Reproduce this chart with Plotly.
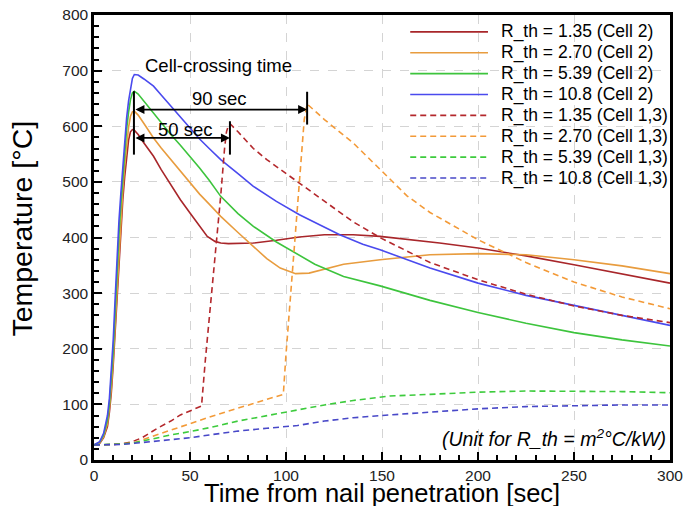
import plotly.graph_objects as go

# ---- Cell 2 (nail-penetrated cell) temperature histories ----
t_b2 = [0, 3, 5, 7, 8, 9, 10, 11, 12, 13, 14, 15, 16, 17, 18, 19, 20, 21, 23, 26, 31, 35, 40, 45, 50, 55, 60, 66, 75, 83, 95, 107, 118, 128, 140, 149, 175, 200, 225, 250, 275, 300]
T_b2 = [27, 33, 48, 80, 110, 155, 215, 290, 365, 430, 480, 530, 575, 615, 645, 670, 686, 693, 692, 685, 672, 656, 636, 616, 596, 577, 560, 540, 515, 492, 465, 441, 422, 405, 388, 378, 345, 318, 296, 278, 259, 242]

t_g2 = [0, 3, 5, 7, 8, 9, 10, 11, 12, 13, 14, 15, 16, 17, 18, 19, 20, 21, 23, 26, 31, 35, 40, 45, 50, 55, 60, 66, 75, 83, 95, 104, 115, 130, 149, 175, 200, 225, 250, 275, 300]
T_g2 = [27, 32, 45, 72, 100, 140, 195, 265, 340, 405, 460, 510, 555, 595, 625, 648, 660, 663, 658, 645, 624, 607, 585, 566, 546, 525, 503, 474, 443, 420, 392, 374, 352, 330, 313, 287, 265, 246, 229, 216, 205]

t_o2 = [0, 3, 5, 7, 8, 9, 10, 11, 12, 13, 14, 15, 16, 17, 18, 19, 20, 21, 23, 26, 31, 35, 40, 45, 50, 55, 60, 66, 75, 83, 90, 97, 105, 112, 120, 130, 149, 175, 200, 225, 250, 275, 300]
T_o2 = [27, 31, 42, 65, 92, 128, 180, 245, 315, 380, 435, 485, 530, 568, 598, 618, 626, 627, 620, 605, 579, 561, 540, 518, 498, 478, 460, 438, 409, 384, 362, 345, 335, 336, 343, 352, 360, 369, 371, 369, 360, 349, 335]

t_r2 = [0, 3, 5, 7, 8, 9, 10, 11, 12, 13, 14, 15, 16, 17, 18, 19, 20, 21, 23, 26, 31, 35, 40, 45, 50, 55, 59, 63, 66, 70, 75, 83, 95, 107, 120, 135, 149, 165, 180, 200, 225, 250, 275, 300]
T_r2 = [27, 30, 40, 60, 85, 120, 170, 230, 300, 365, 420, 468, 510, 548, 575, 590, 594, 593, 585, 570, 546, 522, 494, 468, 444, 420, 402, 393, 390, 389, 389, 390, 395, 401, 405, 405, 402, 396, 390, 381, 367, 351, 335, 318]

# ---- Cells 1,3 (neighbouring cells) temperature histories ----
t_r13 = [0, 5, 10, 13, 16, 20, 25, 33, 40, 45, 50, 56, 58, 60, 62, 64, 66, 68, 69, 70, 71, 75, 83, 90, 100, 110, 120, 135, 150, 175, 200, 225, 250, 275, 300]
T_r13 = [27, 27, 28, 29, 30, 33, 40, 57, 70, 81, 88, 97, 180, 255, 325, 395, 475, 560, 590, 601, 604, 590, 560, 540, 515, 490, 465, 428, 398, 355, 324, 298, 277, 260, 247]

t_o13 = [0, 5, 10, 15, 21, 30, 40, 50, 60, 70, 76, 85, 92, 98.6, 100, 102, 104, 106, 108, 109.5, 111, 120, 135, 150, 163, 175, 200, 225, 250, 275, 300]
T_o13 = [27, 27, 28, 29, 31, 42, 54, 66, 77, 88, 94, 103, 110, 118, 190, 280, 370, 465, 560, 612, 640, 612, 570, 520, 475, 445, 396, 355, 320, 293, 272]

t_g13 = [0, 10, 15, 21, 30, 40, 50, 60, 75, 90, 106, 120, 135, 149, 154, 175, 200, 225, 250, 275, 300]
T_g13 = [27, 28, 29, 31, 38, 45, 51, 58, 70, 80, 90, 99, 107, 112, 115, 118, 122, 124, 124, 123, 121]

t_b13 = [0, 10, 15, 21, 30, 40, 50, 60, 75, 90, 106, 120, 135, 154, 175, 200, 225, 250, 275, 300]
T_b13 = [27, 27, 28, 30, 33, 36, 40, 45, 52, 57, 62, 70, 76, 81, 86, 92, 96, 98, 99, 99]

labels = [
    "R_th = 1.35 (Cell 2)", "R_th = 2.70 (Cell 2)", "R_th = 5.39 (Cell 2)", "R_th = 10.8 (Cell 2)",
    "R_th = 1.35 (Cell 1,3)", "R_th = 2.70 (Cell 1,3)", "R_th = 5.39 (Cell 1,3)", "R_th = 10.8 (Cell 1,3)",
]

# cell-crossing markers: peak time of cell 2 and of cells 1,3
t_cross0 = 20.8
t_cross_135 = 70.8
t_cross_270 = 111.0

series = [
    (t_r2, T_r2, "#A8262A", "solid"),
    (t_o2, T_o2, "#E89C3E", "solid"),
    (t_g2, T_g2, "#3DC43D", "solid"),
    (t_b2, T_b2, "#4A4AEE", "solid"),
    (t_r13, T_r13, "#B4282C", "6px,4px"),
    (t_o13, T_o13, "#F39A38", "6px,4px"),
    (t_g13, T_g13, "#3DCB3D", "6px,4px"),
    (t_b13, T_b13, "#4848C8", "6px,4px"),
]

FONT = "Arial, 'Liberation Sans', sans-serif"

fig = go.Figure()
for (tx, ty, col, dash), name in zip(series, labels):
    fig.add_trace(go.Scatter(
        x=tx, y=ty, mode="lines", name=name, showlegend=False,
        line=dict(color=col, width=1.6, dash=dash),
    ))

shapes = []
annotations = []

# hand-drawn legend (long line samples)
leg_x0, leg_x1, leg_tx = 0.549, 0.684, 0.703
row0, drow = 0.962, 0.0469
for i, ((_, _, col, dash), name) in enumerate(zip(series, labels)):
    yy = row0 - i * drow
    shapes.append(dict(type="line", xref="paper", yref="paper", x0=leg_x0, x1=leg_x1,
                       y0=yy, y1=yy, line=dict(color=col, width=1.6, dash=dash)))
    annotations.append(dict(xref="paper", yref="paper", x=leg_tx, y=yy, text=name,
                            showarrow=False, xanchor="left", yanchor="middle",
                            font=dict(family=FONT, size=17.5, color="black")))

# vertical bars marking peak times
for tx, y0, y1 in [(t_cross0, 549, 663), (t_cross_135, 549, 609), (t_cross_270, 603, 662)]:
    shapes.append(dict(type="line", xref="x", yref="y", x0=tx, x1=tx, y0=y0, y1=y1,
                       line=dict(color="black", width=2)))

# double-headed arrows for crossing delays
for tend, yv in [(t_cross_270, 630), (t_cross_135, 579)]:
    annotations.append(dict(x=tend, y=yv, ax=t_cross0, ay=yv, xref="x", yref="y",
                            axref="x", ayref="y", text="", showarrow=True,
                            arrowhead=2, startarrowhead=2, arrowside="end+start",
                            arrowsize=1, startarrowsize=1, arrowwidth=1.8, arrowcolor="black"))

annotations += [
    dict(x=65, y=709, xref="x", yref="y", text="Cell-crossing time", showarrow=False,
         font=dict(family=FONT, size=18.5, color="black")),
    dict(x=65.6, y=649, xref="x", yref="y", text="90 sec", showarrow=False,
         font=dict(family=FONT, size=18.5, color="black")),
    dict(x=47.4, y=594, xref="x", yref="y", text="50 sec", showarrow=False,
         font=dict(family=FONT, size=18.5, color="black")),
    dict(x=0.9965, y=0.049, xref="paper", yref="paper", xanchor="right", yanchor="middle",
         text="<i>(Unit for R_th = m<sup>2</sup>°C/kW)</i>", showarrow=False,
         font=dict(family=FONT, size=19.5, color="black")),
    # axis titles
    dict(x=0.5, y=-0.074, xref="paper", yref="paper", xanchor="center", yanchor="middle",
         text="Time from nail penetration [sec]", showarrow=False,
         font=dict(family=FONT, size=25.5, color="black")),
    dict(x=-0.125, y=0.520, xref="paper", yref="paper", xanchor="center", yanchor="middle",
         text="Temperature [°C]", textangle=-90, showarrow=False,
         font=dict(family=FONT, size=28.5, color="black")),
]

axis_common = dict(
    showline=True, linecolor="black", linewidth=2.5, mirror=True,
    ticks="inside", ticklen=8, tickwidth=2, tickcolor="black",
    showgrid=True, gridcolor="#d4d4d4", griddash="dash", gridwidth=1,
    zeroline=False, automargin=False, ticklabeloverflow="allow",
    tickfont=dict(family=FONT, size=15.5, color="#222"),
)

fig.update_layout(
    width=683, height=506,
    margin=dict(l=94, r=13, t=15, b=46),
    paper_bgcolor="white", plot_bgcolor="white",
    shapes=shapes, annotations=annotations,
    xaxis=dict(range=[0, 300], tickvals=[0, 50, 100, 150, 200, 250, 300],
               minor=dict(dtick=10, ticks="inside", ticklen=5, tickcolor="black", showgrid=False),
               **axis_common),
    yaxis=dict(range=[0, 800], tickvals=list(range(0, 801, 100)),
               minor=dict(dtick=20, ticks="inside", ticklen=5, tickcolor="black", showgrid=False),
               **axis_common),
)

fig.write_html("out.html")
